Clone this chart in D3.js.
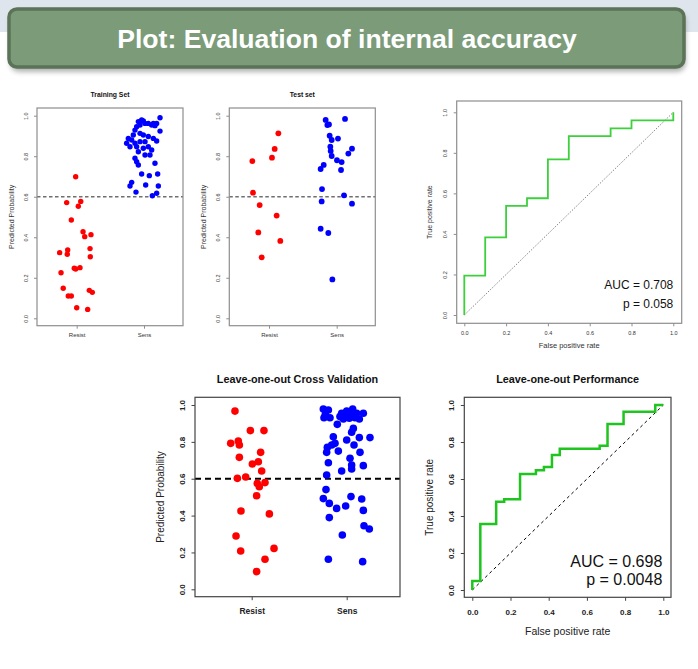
<!DOCTYPE html>
<html><head><meta charset="utf-8">
<script src="https://cdn.jsdelivr.net/npm/d3@7/dist/d3.min.js"></script>
<style>body{margin:0;background:#fff;}svg{display:block;font-family:"Liberation Sans",Arial,sans-serif;}</style>
</head><body><svg id="c" width="698" height="669"></svg>
<script>
// ---------------- DATA ----------------
const slideTitle = "Plot: Evaluation of internal accuracy";
const categories = ["Resist", "Sens"];
const probTicks = [0, 0.2, 0.4, 0.6, 0.8, 1.0];
const rateTicks = [0, 0.2, 0.4, 0.6, 0.8, 1.0];
const threshold = 0.6;

// Training set (predicted probability, horizontal jitter in category units)
const trainResist = [0.699,0.571,0.577,0.553,0.485,0.427,0.403,0.413,0.324,0.337,0.316,0.344,0.304,0.247,0.243,0.250,0.225,0.148,0.110,0.110,0.138,0.128,0.052,0.044];
const trainResistJitter = [-0.015,-0.149,0.06,0.024,-0.08,0.094,0.119,0.212,-0.253,-0.134,-0.14,0.198,0.202,-0.036,-0.015,0.049,-0.233,-0.2,-0.125,-0.08,0.187,0.232,0,0.163];
const trainSens = [0.990,0.979,0.971,0.974,0.954,0.946,0.929,0.962,0.962,0.962,0.954,0.962,0.951,0.924,0.905,0.913,0.905,0.897,0.888,0.875,0.888,0.864,0.880,0.864,0.872,0.872,0.847,0.847,0.839,0.847,0.831,0.822,0.806,0.806,0.790,0.773,0.757,0.765,0.712,0.704,0.712,0.671,0.653,0.658,0.653,0.623,0.617,0.605];
const trainSensJitter = [0.238,-0.035,-0.084,-0.01,-0.059,-0.109,-0.134,0.015,0.064,0.139,0.114,0.188,0.163,0.238,-0.159,-0.059,-0.01,0.064,0.139,0.188,-0.233,-0.258,-0.183,-0.134,-0.059,0.015,-0.109,-0.208,-0.01,0.064,0.114,-0.084,0.015,0.089,-0.134,-0.109,-0.084,0.163,-0.035,0.079,0.203,-0.183,-0.208,0.025,0.213,-0.119,0.188,0.124];

// Test set
const testResist = [0.913,0.836,0.793,0.776,0.620,0.559,0.507,0.424,0.382,0.301];
const testResistJitter = [0.138,0.084,0.044,-0.246,-0.236,-0.138,0.113,-0.158,0.167,-0.108];
const testSens = [0.979,0.954,0.957,0.984,0.901,0.880,0.887,0.847,0.826,0.837,0.813,0.801,0.780,0.771,0.757,0.737,0.732,0.638,0.607,0.577,0.566,0.442,0.421,0.192];
const testSensJitter = [-0.163,-0.138,-0.114,0.123,-0.104,-0.074,0.019,-0.094,-0.089,0.226,0.172,-0.074,0.004,0.073,-0.192,-0.237,0.064,-0.217,0.108,-0.222,0.226,-0.237,-0.124,-0.064];

// Leave-one-out cross validation
const looResist = [0.967,0.861,0.861,0.792,0.805,0.783,0.743,0.716,0.680,0.692,0.642,0.602,0.609,0.575,0.579,0.557,0.508,0.425,0.409,0.289,0.208,0.222,0.163,0.096];
const looResistJitter = [-0.176,-0.014,0.129,-0.221,-0.141,-0.130,0.094,-0.130,0.007,0.070,0.105,-0.151,-0.063,0.059,0.14,0.08,0.052,-0.113,0.186,-0.165,-0.116,0.235,0.14,0.052];
const looSens = [0.978,0.973,0.931,0.931,0.955,0.967,0.978,0.955,0.955,0.924,0.928,0.931,0.924,0.895,0.937,0.950,0.946,0.946,0.873,0.852,0.828,0.810,0.823,0.823,0.783,0.792,0.770,0.783,0.750,0.743,0.743,0.711,0.674,0.687,0.642,0.671,0.653,0.620,0.541,0.492,0.466,0.439,0.452,0.503,0.490,0.428,0.389,0.345,0.327,0.295,0.163,0.150];
const looSensJitter = [-0.246,-0.193,-0.239,-0.176,-0.053,0,0.063,0.105,0.175,-0.035,0.028,0.087,0.133,-0.099,-0.071,-0.225,-0.018,0.035,0.07,0.052,-0.141,0,0.133,0.245,0.077,-0.123,-0.204,-0.158,-0.088,-0.211,0.14,0.035,0.052,-0.193,-0.053,0.175,0.052,-0.211,-0.218,-0.246,-0.183,-0.106,-0.011,0.045,0.158,0.175,-0.183,0.182,0.238,-0.046,-0.193,0.168];

// ROC curves (corner points, step drawn vertical-then-horizontal)
const rocTestFPR = [0, 0.1, 0.2, 0.3, 0.4, 0.5, 0.7, 0.8, 1.0, 1.0];
const rocTestTPR = [0, 0.194, 0.383, 0.538, 0.576, 0.768, 0.882, 0.921, 0.96, 1.0];
const rocTestAUC = "AUC = 0.708", rocTestP = "p = 0.058";

const rocLooFPR = [0, 0.042, 0.125, 0.167, 0.25, 0.333, 0.375, 0.417, 0.458, 0.667, 0.708, 0.792, 0.958, 1.0];
const rocLooTPR = [0, 0.049, 0.357, 0.477, 0.49, 0.627, 0.647, 0.665, 0.73, 0.764, 0.78, 0.897, 0.964, 1.0];
const rocLooAUC = "AUC = 0.698", rocLooP = "p = 0.0048";

// ---------------- DRAWING ----------------
const svg = d3.select("#c");

// slide header
svg.append("rect").attr("x",0).attr("y",0).attr("width",698).attr("height",32).attr("fill","#dfe5ec");
const defs = svg.append("defs");
const f = defs.append("filter").attr("id","sh").attr("x","-5%").attr("y","-20%").attr("width","110%").attr("height","160%");
f.append("feGaussianBlur").attr("stdDeviation",2.5);
svg.append("rect").attr("x",10).attr("y",12).attr("width",676).attr("height",60).attr("rx",9)
  .attr("fill","#777").attr("opacity",0.55).attr("filter","url(#sh)");
svg.append("rect").attr("x",9).attr("y",9).attr("width",675).attr("height",58).attr("rx",8)
  .attr("fill","#7b9b79").attr("stroke","#5b7357").attr("stroke-width",3.5);
svg.append("text").attr("x",347).attr("y",48).attr("text-anchor","middle")
  .attr("font-size",26.6).attr("font-weight","bold").attr("fill","#fff").text(slideTitle);

function rotLabels(axisG, dx, fs, color, w) {
  axisG.selectAll(".tick text").attr("x",0).attr("y",0).attr("dy","0.35em")
    .attr("text-anchor","middle").attr("transform",`translate(${dx},0) rotate(-90)`)
    .attr("font-size",fs).attr("fill",color).attr("font-family",null).attr("font-weight",w||null);
}

function strip(c, rv, rj, sv, sj) {
  const g = svg.append("g");
  const x = d3.scaleLinear().domain([0,1]).range([c.xR, c.xS]);
  const y = d3.scaleLinear().domain([0,1]).range([c.y0, c.y1]);
  const [bx0,by0,bx1,by1] = c.box;
  // threshold line
  g.append("line").attr("x1",bx0).attr("x2",bx1).attr("y1",y(threshold)).attr("y2",y(threshold))
    .attr("stroke",c.lineColor).attr("stroke-width",c.lineWidth).attr("stroke-dasharray",c.dash);
  // points
  g.selectAll(".r").data(rv).join("circle").attr("cx",(d,i)=>x(0+rj[i])).attr("cy",d=>y(d))
    .attr("r",c.r).attr("fill","#ff0000");
  g.selectAll(".s").data(sv).join("circle").attr("cx",(d,i)=>x(1+sj[i])).attr("cy",d=>y(d))
    .attr("r",c.r).attr("fill","#0000ff");
  // box
  g.append("rect").attr("x",bx0).attr("y",by0).attr("width",bx1-bx0).attr("height",by1-by0)
    .attr("fill","none").attr("stroke",c.boxColor).attr("stroke-width",c.boxW);
  // y axis
  const ya = g.append("g").attr("transform",`translate(${bx0},0)`)
    .call(d3.axisLeft(y).tickValues(probTicks).tickFormat(d3.format(".1f")).tickSize(c.tick));
  ya.select(".domain").remove();
  ya.selectAll(".tick line").attr("stroke",c.boxColor);
  rotLabels(ya, c.tickLabX - bx0, c.tickFs, c.textColor, c.tickW);
  // x axis
  const xa = g.append("g").attr("transform",`translate(0,${by1})`)
    .call(d3.axisBottom(x).tickValues([0,1]).tickFormat(i=>categories[i]).tickSize(c.tick));
  xa.select(".domain").remove();
  xa.selectAll(".tick line").attr("stroke",c.boxColor);
  xa.selectAll(".tick text").attr("y",c.catY - by1).attr("dy",0).attr("font-size",c.catFs)
    .attr("fill",c.textColor).attr("font-family",null).attr("font-weight",c.tickW||null);
  // labels
  g.append("text").attr("transform",`translate(${c.ylabX},${(by0+by1)/2}) rotate(-90)`).attr("dy","0.35em")
    .attr("text-anchor","middle").attr("font-size",c.ylabFs).attr("fill",c.textColor).text("Predicted Probability");
  g.append("text").attr("x",(bx0+bx1)/2).attr("y",c.titleY).attr("text-anchor","middle")
    .attr("font-weight","bold").attr("font-size",c.titleFs).attr("fill","#111").text(c.title);
}

function roc(c, fpr, tpr, auc, p) {
  const g = svg.append("g");
  const x = d3.scaleLinear().domain([0,1]).range([c.x0, c.x1]);
  const y = d3.scaleLinear().domain([0,1]).range([c.y0, c.y1]);
  const [bx0,by0,bx1,by1] = c.box;
  g.append("line").attr("x1",x(0)).attr("y1",y(0)).attr("x2",x(1)).attr("y2",y(1))
    .attr("stroke",c.diagColor).attr("stroke-width",c.diagW).attr("stroke-dasharray",c.diagDash);
  const pts = fpr.map((v,i)=>[v,tpr[i]]);
  g.append("path").datum(pts).attr("fill","none").attr("stroke",c.lineColor).attr("stroke-width",c.lineW)
    .attr("d", d3.line().x(d=>x(d[0])).y(d=>y(d[1])).curve(d3.curveStepBefore));
  g.append("rect").attr("x",bx0).attr("y",by0).attr("width",bx1-bx0).attr("height",by1-by0)
    .attr("fill","none").attr("stroke",c.boxColor).attr("stroke-width",c.boxW);
  const ya = g.append("g").attr("transform",`translate(${bx0},0)`)
    .call(d3.axisLeft(y).tickValues(rateTicks).tickFormat(d3.format(".1f")).tickSize(c.tick));
  ya.select(".domain").remove();
  ya.selectAll(".tick line").attr("stroke",c.boxColor);
  rotLabels(ya, c.yTickLabX - bx0, c.tickFs, c.textColor, c.tickW);
  const xa = g.append("g").attr("transform",`translate(0,${by1})`)
    .call(d3.axisBottom(x).tickValues(rateTicks).tickFormat(d3.format(".1f")).tickSize(c.tick));
  xa.select(".domain").remove();
  xa.selectAll(".tick line").attr("stroke",c.boxColor);
  xa.selectAll(".tick text").attr("y",c.xTickLabY - by1).attr("dy",0).attr("font-size",c.tickFs)
    .attr("fill",c.textColor).attr("font-family",null).attr("font-weight",c.tickW||null);
  g.append("text").attr("transform",`translate(${c.ylabX},${(by0+by1)/2}) rotate(-90)`).attr("dy","0.35em")
    .attr("text-anchor","middle").attr("font-size",c.ylabFs).attr("fill",c.textColor).text("True positive rate");
  g.append("text").attr("x",(bx0+bx1)/2).attr("y",c.xlabY).attr("text-anchor","middle")
    .attr("font-size",c.xlabFs).attr("fill",c.textColor).text("False positive rate");
  g.append("text").attr("x",c.aucX).attr("y",c.aucY1).attr("text-anchor","end").attr("font-size",c.aucFs).attr("fill","#111").text(auc);
  g.append("text").attr("x",c.aucX).attr("y",c.aucY2).attr("text-anchor","end").attr("font-size",c.aucFs).attr("fill","#111").text(p);
  if (c.title) g.append("text").attr("x",(bx0+bx1)/2).attr("y",c.titleY).attr("text-anchor","middle")
    .attr("font-weight","bold").attr("font-size",c.titleFs).attr("fill","#111").text(c.title);
}

const topStyle = {boxColor:"#8e8e8e", boxW:1.2, textColor:"#333", tick:3, tickFs:5.5, catFs:6, ylabFs:7,
  titleFs:6.8, titleY:96.5, catY:337.5, lineColor:"#6f6f6f", lineWidth:1.6, dash:"3.5,2.5", r:2.7};

strip(Object.assign({}, topStyle, {box:[37,108,183,325.7], xR:76.7, xS:144, y0:318.3, y1:115.7,
  tickLabX:26, ylabX:12, title:"Training Set"}), trainResist, trainResistJitter, trainSens, trainSensJitter);
strip(Object.assign({}, topStyle, {box:[229.3,108,375.3,325.7], xR:269, xS:336.7, y0:318.3, y1:115.7,
  tickLabX:218, ylabX:203.5, title:"Test set", r:2.9}), testResist, testResistJitter, testSens, testSensJitter);
strip({box:[195,397.3,400,596.7], xR:251.7, xS:346.7, y0:589.3, y1:405, r:3.8, boxColor:"#444", boxW:1.2,
  textColor:"#222", tick:3.5, tickFs:8, tickW:"bold", catFs:8.5, ylabFs:10, titleFs:10.8, titleY:382.5, catY:614.5,
  tickLabX:181.7, ylabX:160.7, title:"Leave-one-out Cross Validation", lineColor:"#000", lineWidth:2, dash:"6,4"},
  looResist, looResistJitter, looSens, looSensJitter);

roc({box:[456.7,101,681.7,323.3], x0:464.3, x1:673.3, y0:315, y1:112.3, boxColor:"#8e8e8e", boxW:1.2,
  textColor:"#333", tick:3, tickFs:5.5, yTickLabX:445, xTickLabY:335, ylabX:430, ylabFs:7, xlabY:348, xlabFs:7.5,
  aucX:673.3, aucY1:289.3, aucY2:308.3, aucFs:12, lineColor:"#3dd03d", lineW:1.8,
  diagColor:"#777", diagW:0.9, diagDash:"1.5,1.5"}, rocTestFPR, rocTestTPR, rocTestAUC, rocTestP);
roc({box:[464.3,397.3,671,597.3], x0:472.3, x1:663.3, y0:590, y1:405, boxColor:"#444", boxW:1.2,
  textColor:"#222", tick:3.5, tickFs:8, tickW:"bold", yTickLabX:450.7, xTickLabY:615.5, ylabX:429, ylabFs:10,
  xlabY:634.5, xlabFs:10.5, aucX:662.3, aucY1:567, aucY2:585, aucFs:16, lineColor:"#1fc41f", lineW:2.5,
  diagColor:"#000", diagW:1, diagDash:"3,3", title:"Leave-one-out Performance", titleFs:10.8, titleY:382.5},
  rocLooFPR, rocLooTPR, rocLooAUC, rocLooP);
</script></body></html>
